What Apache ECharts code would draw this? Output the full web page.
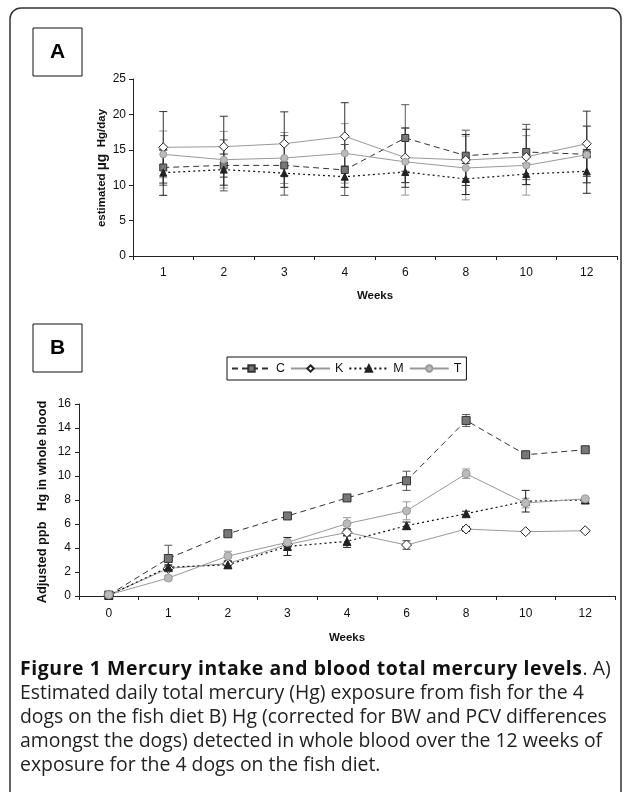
<!DOCTYPE html>
<html>
<head>
<meta charset="utf-8">
<script src="https://cdn.jsdelivr.net/npm/echarts@6/dist/echarts.min.js"></script>
<style>
html,body{margin:0;padding:0;background:#fff;}
#wrap{position:relative;width:627px;height:792px;overflow:hidden;}
#chart{position:absolute;left:0;top:0;width:627px;height:792px;}
#cap{position:absolute;left:20px;top:656px;width:605px;font-family:"Open Sans","Noto Sans",sans-serif;font-size:19.4px;line-height:24px;color:#222;white-space:nowrap;}
#cap b{font-weight:700;color:#111;letter-spacing:0.6px;}
</style>
</head>
<body>
<div id="wrap">
<div id="chart"></div>
<div id="cap"><b>Figure 1 Mercury intake and blood total mercury levels</b>. A)<br>Estimated daily total mercury (Hg) exposure from fish for the 4<br>dogs on the fish diet B) Hg (corrected for BW and PCV differences<br>amongst the dogs) detected in whole blood over the 12 weeks of<br>exposure for the 4 dogs on the fish diet.</div>
</div>
<script>
// ---- Panel A data ----
const weeksA = ['1','2','3','4','6','8','10','12'];
const A_C = [12.5,12.8,12.8,12.15,16.67,14.17,14.69,14.36];
const A_K = [15.35,15.44,15.86,16.9,13.9,13.56,14.0,15.86];
const A_M = [11.77,12.2,11.7,11.2,11.86,10.88,11.58,11.96];
const A_T = [14.36,13.6,13.84,14.5,13.3,12.43,12.8,14.3];
const A_C_err = [2.5,3.6,4.2,3.6,4.7,3.6,3.9,4.0];
const A_K_err = [5.05,4.3,4.5,4.75,4.2,3.6,3.9,4.6];
const A_M_err = [3.2,2.2,2.0,1.5,1.5,2.2,1.5,3.1];
const A_T_err = [3.3,4.0,3.6,4.2,4.7,4.5,4.2,4.0];
// ---- Panel B data ----
const weeksB = ['0','1','2','3','4','6','8','10','12'];
const B_C = [0.08,3.13,5.19,6.67,8.17,9.6,14.63,11.77,12.19];
const B_K = [0.08,2.3,2.7,4.3,5.3,4.25,5.58,5.36,5.44];
const B_M = [0.05,2.4,2.6,4.13,4.55,5.86,6.86,7.9,8.0];
const B_T = [0.1,1.5,3.33,4.47,6.03,7.1,10.19,7.75,8.1];
const B_C_err = [0.05,1.1,0.2,0.2,0.2,0.8,0.5,0.2,0.2];
const B_K_err = [0.05,0.2,0.2,0.2,0.3,0.35,0.2,0.1,0.1];
const B_M_err = [0.05,0.2,0.3,0.75,0.5,0.3,0.2,0.9,0.1];
const B_T_err = [0.05,0.2,0.4,0.4,0.5,0.75,0.4,0.4,0.1];
const yTicksA = {min:0,max:25,interval:5};
const yTicksB = {min:0,max:16,interval:2};

const FONT = '"Liberation Sans", Arial, sans-serif';
const chart = echarts.init(document.getElementById('chart'), null, {renderer:'canvas'});

const styles = {
  C:{line:{color:'#333',width:1,type:[6,4]}, sym:'rect', fill:'#777', border:'#333', err:'#555'},
  K:{line:{color:'#999',width:1,type:'solid'}, sym:'diamond', fill:'#fff', border:'#222', err:'#333'},
  M:{line:{color:'#111',width:1.2,type:[2,3]}, sym:'triangle', fill:'#222', border:'#222', err:'#222'},
  T:{line:{color:'#999',width:1,type:'solid'}, sym:'circle', fill:'#bbb', border:'#999', err:'#999'}
};

function lineSeries(name, data, idx, size){
  const s = styles[name];
  return {
    type:'line', name:name, xAxisIndex:idx, yAxisIndex:idx, data:data,
    symbol:s.sym, symbolSize: s.sym==='diamond'? size+2 : size,
    lineStyle:{color:s.line.color,width:s.line.width,type:s.line.type},
    itemStyle:{color:s.fill,borderColor:s.border,borderWidth:1},
    z:5, animation:false, emphasis:{disabled:true}
  };
}
function errSeries(name, vals, errs, idx, cap){
  const color = styles[name].err;
  return {
    type:'custom', name:name+'_err', xAxisIndex:idx, yAxisIndex:idx, z:3,
    data: vals.map((v,i)=>[i, v-errs[i], v+errs[i]]),
    renderItem:function(params, api){
      const x = api.value(0);
      const lo = api.coord([x, api.value(1)]);
      const hi = api.coord([x, api.value(2)]);
      const st = {stroke:color, lineWidth:1};
      return {type:'group', children:[
        {type:'line', shape:{x1:lo[0],y1:lo[1],x2:hi[0],y2:hi[1]}, style:st},
        {type:'line', shape:{x1:lo[0]-cap,y1:lo[1],x2:lo[0]+cap,y2:lo[1]}, style:st},
        {type:'line', shape:{x1:hi[0]-cap,y1:hi[1],x2:hi[0]+cap,y2:hi[1]}, style:st}
      ]};
    },
    animation:false, silent:true
  };
}

const axisLine = {show:true, lineStyle:{color:'#222',width:1}};
const axisLabel = {color:'#111', fontFamily:FONT, fontSize:12};

const option = {
  animation:false,
  textStyle:{fontFamily:FONT},
  grid:[
    {left:133, top:79, width:484, height:177},
    {left:79, top:404, width:536, height:192}
  ],
  legend:{
    data:['C','K','M','T'], left:227, top:357, orient:'horizontal',
    borderColor:'#111', borderWidth:1, padding:[5,5,5,4], itemWidth:39, itemHeight:8, itemGap:5,
    textStyle:{color:'#111', fontFamily:FONT, fontSize:12.5}, selectedMode:false
  },
  xAxis:[
    {type:'category', gridIndex:0, data:weeksA, boundaryGap:true,
     axisLine:axisLine, axisTick:{show:true,length:4,lineStyle:{color:'#222'}},
     axisLabel:Object.assign({margin:11},axisLabel),
     name:'Weeks', nameLocation:'middle', nameGap:34,
     nameTextStyle:{fontFamily:FONT,fontSize:11.5,fontWeight:'bold',color:'#111'}},
    {type:'category', gridIndex:1, data:weeksB, boundaryGap:true,
     axisLine:axisLine, axisTick:{show:true,length:4,lineStyle:{color:'#222'}},
     axisLabel:Object.assign({margin:12},axisLabel),
     name:'Weeks', nameLocation:'middle', nameGap:36,
     nameTextStyle:{fontFamily:FONT,fontSize:11.5,fontWeight:'bold',color:'#111'}}
  ],
  yAxis:[
    {type:'value', gridIndex:0, min:yTicksA.min, max:yTicksA.max, interval:yTicksA.interval,
     axisLine:axisLine, axisTick:{show:true,length:4,lineStyle:{color:'#222'}},
     splitLine:{show:false}, axisLabel:Object.assign({margin:7},axisLabel)},
    {type:'value', gridIndex:1, min:yTicksB.min, max:yTicksB.max, interval:yTicksB.interval,
     axisLine:axisLine, axisTick:{show:true,length:4,lineStyle:{color:'#222'}},
     splitLine:{show:false}, axisLabel:Object.assign({margin:8},axisLabel)}
  ],
  graphic:[
    {type:'rect', shape:{x:10,y:8,width:611,height:820,r:[11,11,0,0]},
     style:{fill:null, stroke:'#333', lineWidth:1.5}, silent:true},
    {type:'rect', shape:{x:33,y:28,width:49,height:48}, style:{fill:'#fff',stroke:'#111',lineWidth:1}},
    {type:'text', x:57.5, y:52, style:{text:'A', font:'bold 21px '+FONT, fill:'#000', align:'center', verticalAlign:'middle'}},
    {type:'rect', shape:{x:33,y:324,width:49,height:48}, style:{fill:'#fff',stroke:'#111',lineWidth:1}},
    {type:'text', x:57.5, y:348, style:{text:'B', font:'bold 21px '+FONT, fill:'#000', align:'center', verticalAlign:'middle'}},
    {type:'text', x:102, y:168, rotation:Math.PI/2,
     style:{text:'{a|estimated }{b|µg}{a|  Hg/day}', align:'center', verticalAlign:'middle',
       rich:{a:{font:'bold 11.5px '+FONT, fill:'#111'}, b:{font:'bold 14px '+FONT, fill:'#111'}}}},
    {type:'text', x:42, y:502, rotation:Math.PI/2,
     style:{text:'Adjusted ppb   Hg in whole blood', align:'center', verticalAlign:'middle',
       font:'bold 12.8px '+FONT, fill:'#111'}}
  ],
  series:[
    errSeries('T',A_T,A_T_err,0,4), errSeries('C',A_C,A_C_err,0,4),
    errSeries('M',A_M,A_M_err,0,4), errSeries('K',A_K,A_K_err,0,4),
    lineSeries('C',A_C,0,7), lineSeries('K',A_K,0,7), lineSeries('M',A_M,0,7), lineSeries('T',A_T,0,7),
    errSeries('T',B_T,B_T_err,1,4), errSeries('C',B_C,B_C_err,1,4),
    errSeries('M',B_M,B_M_err,1,4), errSeries('K',B_K,B_K_err,1,4),
    lineSeries('C',B_C,1,8), lineSeries('K',B_K,1,8), lineSeries('M',B_M,1,8), lineSeries('T',B_T,1,8)
  ]
};
chart.setOption(option);
</script>
</body>
</html>
